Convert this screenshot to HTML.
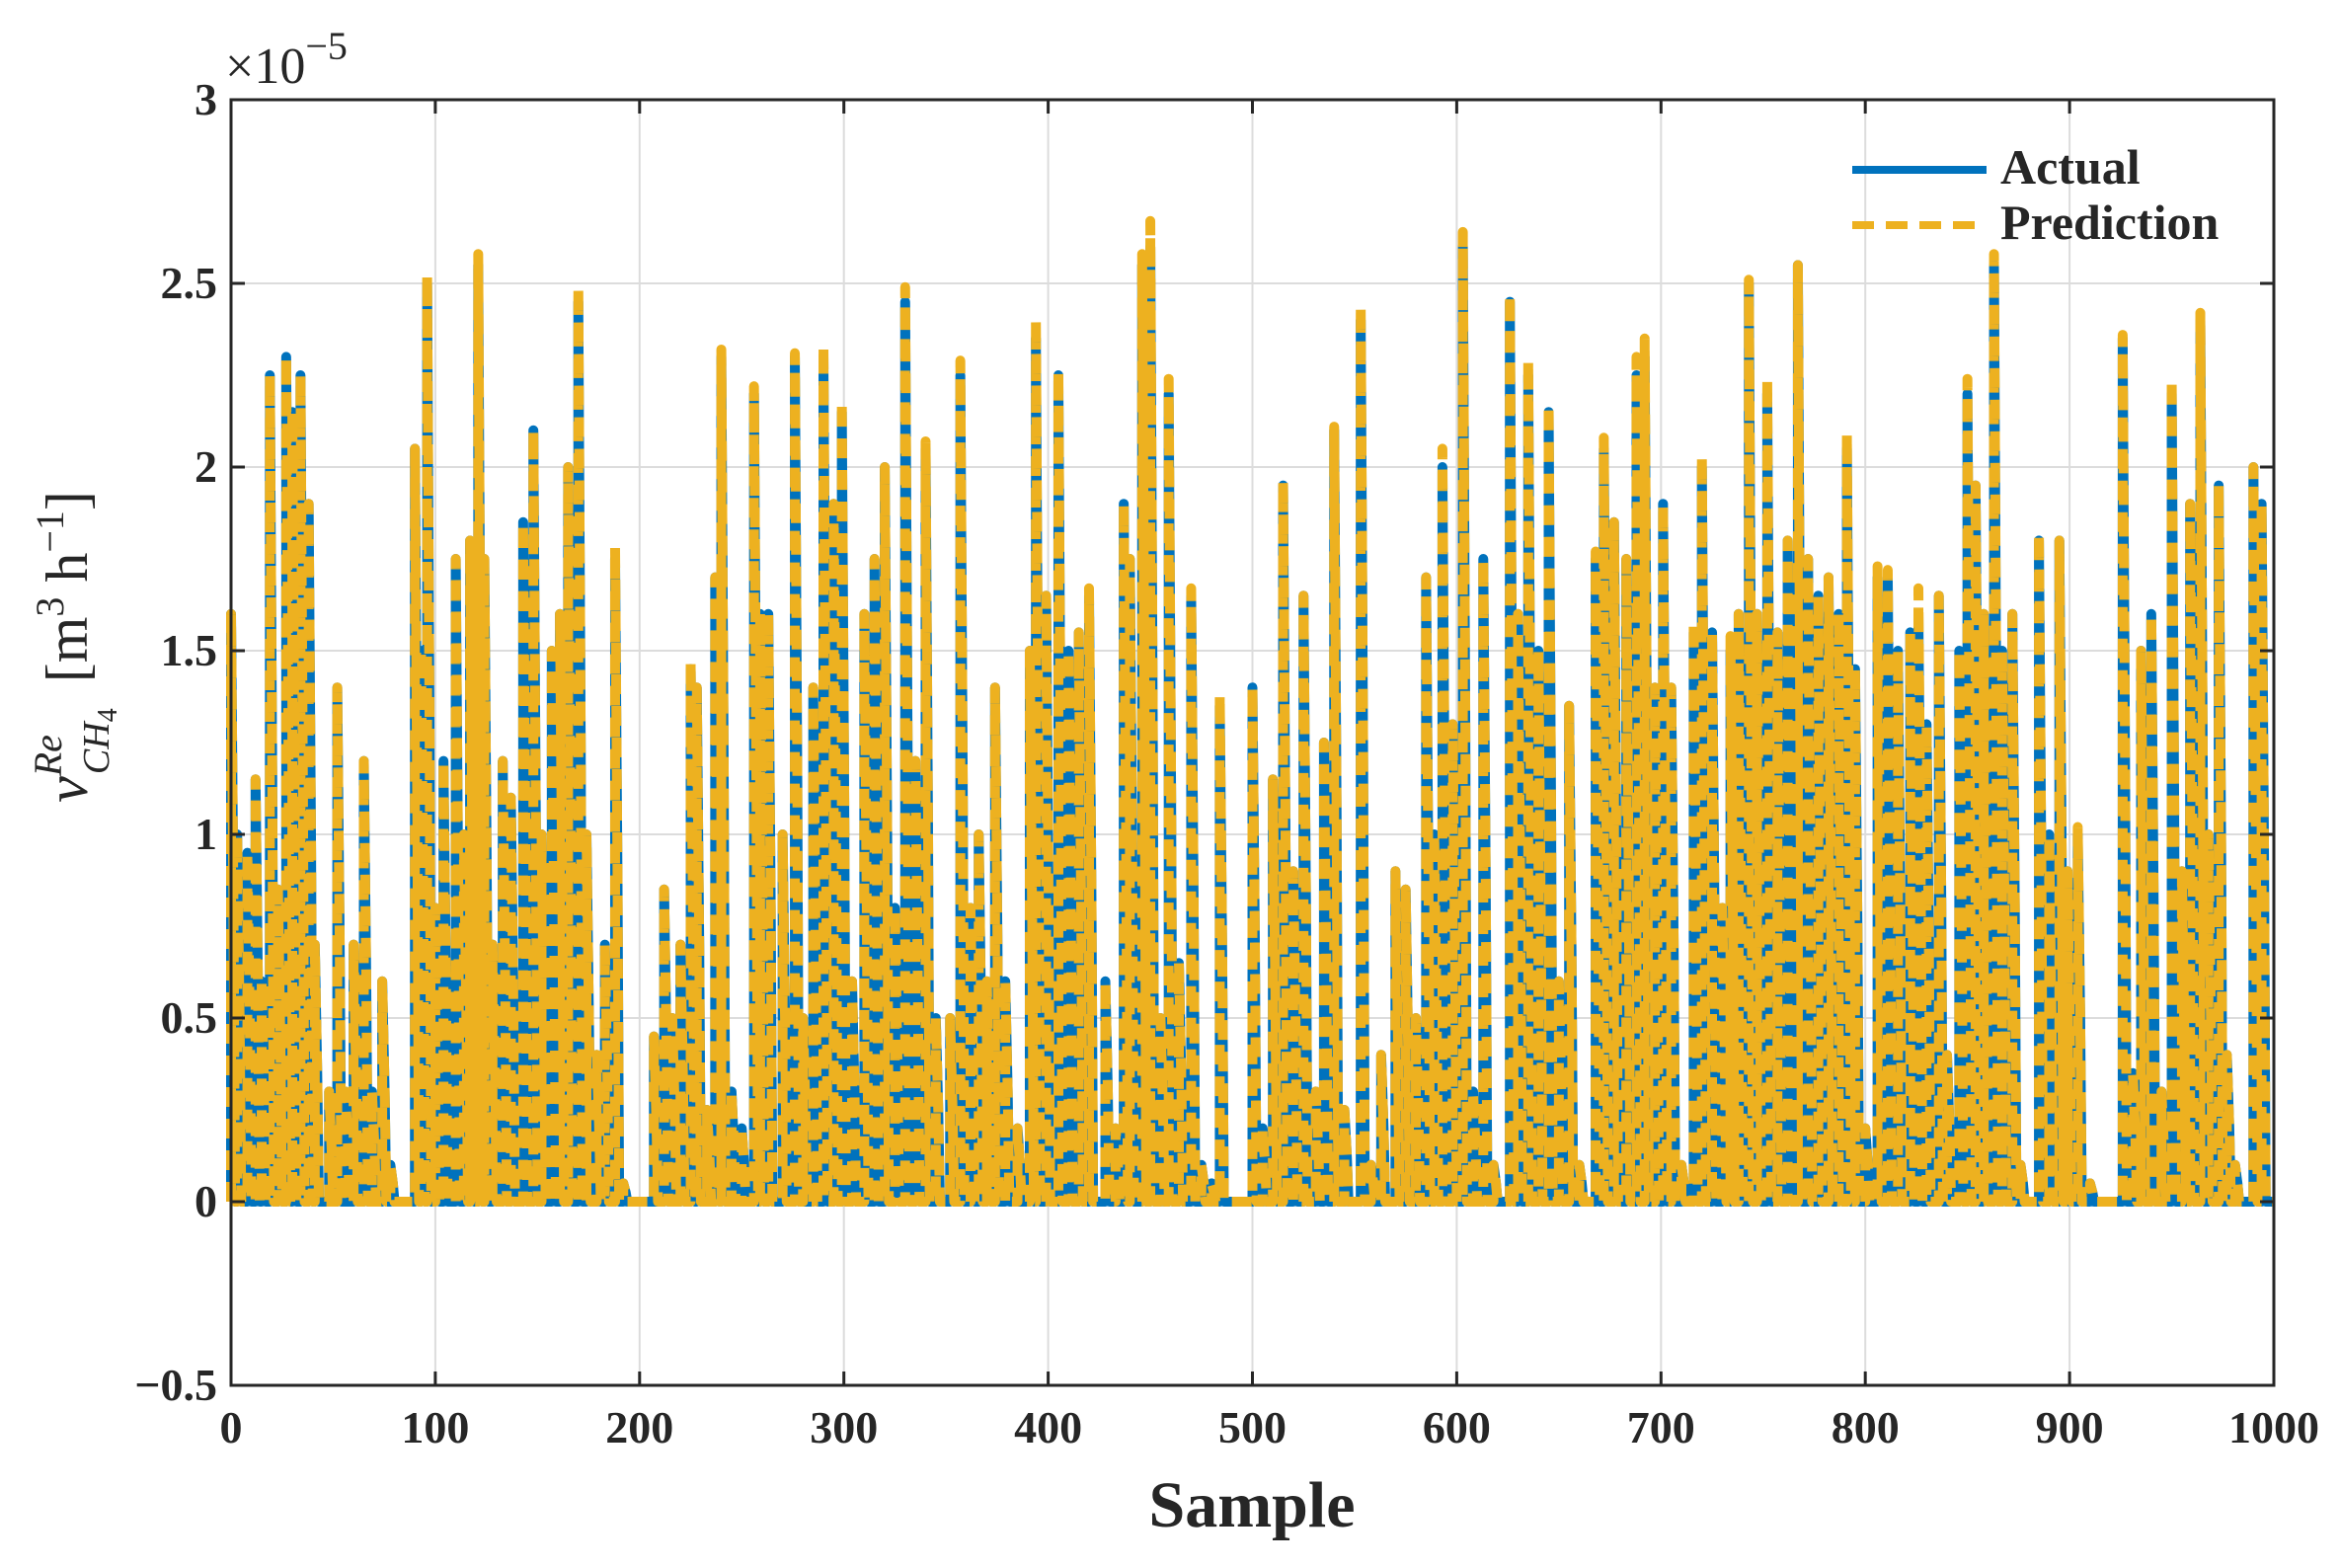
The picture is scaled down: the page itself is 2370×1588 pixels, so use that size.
<!DOCTYPE html>
<html><head><meta charset="utf-8"><style>
body{margin:0;background:#fff}
svg{display:block}
text{font-family:"Liberation Serif",serif;font-weight:bold;fill:#262626}
</style></head><body>
<svg id="chart" width="2370" height="1588" viewBox="0 0 2370 1588" xmlns="http://www.w3.org/2000/svg">
<g id="grid"></g>
<g id="series"></g>
<g id="axes"></g>
<text x="228" y="84" font-size="52" style="font-weight:normal">×10<tspan dy="-24" font-size="40">−5</tspan></text>
<text x="1268" y="1546" font-size="66" text-anchor="middle">Sample</text>
<text transform="translate(88,655) rotate(-90)" font-size="60" style="font-weight:normal" text-anchor="middle"><tspan font-style="italic">v</tspan><tspan font-style="italic" font-size="40" dy="-26">Re</tspan><tspan font-style="italic" font-size="38" dx="-40" dy="48">CH</tspan><tspan font-size="28" dy="8">4</tspan><tspan dy="-30" dx="26">[m</tspan><tspan font-size="40" dy="-24">3</tspan><tspan dy="24"> h</tspan><tspan font-size="40" dy="-24">−1</tspan><tspan dy="24">]</tspan></text>
<g>
<line x1="1876" y1="172" x2="2012" y2="172" stroke="#0072BD" stroke-width="8"/>
<text x="2026" y="186" font-size="50">Actual</text>
<line x1="1876" y1="228" x2="2012" y2="228" stroke="#EDB120" stroke-width="8" stroke-dasharray="22 12"/>
<text x="2026" y="242" font-size="50">Prediction</text>
</g>
</svg>
<script>
const spikeSamples=[0,3,8,12,15,19,23,27,30,34,38,41,48,52,56,60,65,69,74,78,90,93,96,100,104,110,114,117,121,124,128,133,137,143,148,152,157,161,165,170,174,179,183,188,192,207,212,216,220,225,228,233,237,240,245,250,256,259,263,270,276,280,285,290,295,299,304,310,315,320,325,330,335,340,345,352,357,362,366,370,374,379,385,391,394,399,405,410,415,420,428,433,437,440,446,450,455,459,464,470,475,480,484,500,505,510,515,520,525,531,535,540,545,553,558,563,570,575,580,585,589,593,598,603,608,613,618,626,630,635,640,645,650,655,660,668,672,677,683,688,692,697,701,705,710,716,720,725,730,734,738,743,747,752,757,762,767,772,777,782,787,791,795,800,806,811,816,822,826,830,836,840,846,850,854,858,863,867,872,876,885,890,895,899,904,910,926,931,935,940,945,950,955,959,964,968,973,977,981,990,994,998];
const actualPeaks=[1.6,1.0,0.95,1.15,0.6,2.25,0.85,2.3,2.15,2.25,1.9,0.7,0.3,1.4,0.3,0.7,1.2,0.3,0.6,0.1,2.05,1.5,2.5,0.8,1.2,1.75,1.0,1.8,2.55,1.75,0.7,1.2,1.1,1.85,2.1,1.0,1.5,1.6,2.0,2.45,1.0,0.4,0.7,1.75,0.05,0.45,0.85,0.5,0.7,1.45,1.4,0.25,1.7,2.3,0.3,0.2,2.2,1.6,1.6,1.0,2.3,0.5,1.4,2.3,1.9,2.15,0.6,1.6,1.75,2.0,0.8,2.45,1.2,2.05,0.5,0.5,2.25,0.8,1.0,0.6,1.4,0.6,0.2,1.5,2.35,1.65,2.25,1.5,1.55,1.65,0.6,0.2,1.9,1.75,2.55,2.6,0.5,2.2,0.65,1.65,0.1,0.05,1.35,1.4,0.2,1.15,1.95,0.9,1.65,0.3,1.25,2.1,0.25,2.4,0.1,0.4,0.9,0.85,0.5,1.7,1.0,2.0,1.3,2.6,0.3,1.75,0.1,2.45,1.6,2.25,1.5,2.15,0.6,1.35,0.1,1.75,2.05,1.85,1.75,2.25,2.3,1.4,1.9,1.4,0.1,1.55,2.0,1.55,0.8,1.5,1.6,2.5,1.6,2.2,1.55,1.8,2.55,1.75,1.65,1.7,1.6,2.05,1.45,0.2,1.7,1.7,1.5,1.55,1.6,1.3,1.65,0.4,1.5,2.2,1.95,1.6,2.55,1.5,1.6,0.1,1.8,1.0,1.8,0.9,1.0,0.05,2.35,0.35,1.5,1.6,0.3,2.2,0.9,1.9,2.4,1.0,1.95,0.4,0.1,2.0,1.9,0];
const predictionPeaks=[1.6,1.0,0.95,1.15,0.6,2.25,0.85,2.3,2.15,2.25,1.9,0.7,0.3,1.4,0.3,0.7,1.2,0.3,0.6,0.1,2.05,1.5,2.52,0.8,1.2,1.75,1.0,1.8,2.58,1.75,0.7,1.2,1.1,1.85,2.1,1.0,1.5,1.6,2.0,2.49,1.0,0.4,0.7,1.78,0.05,0.45,0.85,0.5,0.7,1.47,1.4,0.25,1.7,2.32,0.3,0.2,2.22,1.6,1.6,1.0,2.31,0.5,1.4,2.33,1.9,2.18,0.6,1.6,1.75,2.0,0.8,2.49,1.2,2.07,0.5,0.5,2.29,0.8,1.0,0.6,1.4,0.6,0.2,1.5,2.4,1.65,2.26,1.5,1.55,1.67,0.6,0.2,1.9,1.75,2.58,2.67,0.5,2.24,0.65,1.67,0.1,0.05,1.38,1.4,0.2,1.15,1.96,0.9,1.65,0.3,1.25,2.11,0.25,2.44,0.1,0.4,0.9,0.85,0.5,1.7,1.0,2.05,1.3,2.64,0.3,1.75,0.1,2.47,1.6,2.29,1.5,2.17,0.6,1.35,0.1,1.77,2.08,1.85,1.75,2.3,2.35,1.4,1.9,1.4,0.1,1.58,2.03,1.55,0.8,1.54,1.6,2.51,1.6,2.24,1.55,1.8,2.55,1.75,1.65,1.7,1.6,2.09,1.45,0.2,1.73,1.72,1.5,1.55,1.67,1.3,1.65,0.4,1.5,2.24,1.95,1.6,2.58,1.5,1.6,0.1,1.82,1.0,1.8,0.9,1.02,0.05,2.36,0.35,1.5,1.6,0.3,2.24,0.9,1.9,2.42,1.0,1.95,0.4,0.1,2.0,1.9,0];
const xTicks=[0,100,200,300,400,500,600,700,800,900,1000];
const yTicks=[-0.5,0,0.5,1,1.5,2,2.5,3];
const yTickLabels=["−0.5","0","0.5","1","1.5","2","2.5","3"];

const L=234,R=2303,T=101,B=1403;
const xs=v=>L+(v/1000)*(R-L);
const ys=v=>B-((v+0.5)/3.5)*(B-T);
const NS='http://www.w3.org/2000/svg';
function mk(tag,parent,attrs){const e=document.createElementNS(NS,tag);for(const k in attrs)e.setAttribute(k,attrs[k]);parent.appendChild(e);return e;}
const grid=document.getElementById('grid'),axes=document.getElementById('axes'),series=document.getElementById('series');
xTicks.forEach(t=>{
  const g=mk('line',grid,{x1:xs(t),x2:xs(t),y1:T,y2:B,stroke:'#dcdcdc','stroke-width':2});
  
  
  mk('line',axes,{x1:xs(t),x2:xs(t),y1:B,y2:B-14,stroke:'#262626','stroke-width':3});
  mk('line',axes,{x1:xs(t),x2:xs(t),y1:T,y2:T+14,stroke:'#262626','stroke-width':3});
  const tx=mk('text',axes,{x:xs(t),y:B+58,'font-size':46,'text-anchor':'middle'});
  tx.textContent=t;
  
  
});
yTicks.forEach((t,i)=>{
  const g=mk('line',grid,{x1:L,x2:R,y1:ys(t),y2:ys(t),stroke:'#dcdcdc','stroke-width':2});
  
  
  mk('line',axes,{x1:L,x2:L+14,y1:ys(t),y2:ys(t),stroke:'#262626','stroke-width':3});
  mk('line',axes,{x1:R,x2:R-14,y1:ys(t),y2:ys(t),stroke:'#262626','stroke-width':3});
  const tx=mk('text',axes,{x:L-14,y:ys(t)+15,'font-size':46,'text-anchor':'end'});
  tx.textContent=yTickLabels[i];
  
  
});
const fr=mk('rect',axes,{x:L,y:T,width:R-L,height:B-T,fill:'none',stroke:'#262626','stroke-width':3});


function pathFor(peaks){
  let d=`M${xs(0)},${ys(0)}`;
  spikeSamples.forEach((s,i)=>{
    d+=` L${xs(s)},${ys(0)} L${xs(s)},${ys(peaks[i])} L${xs(s+1.2)},${ys(peaks[i]*0.5)} L${xs(s+2)},${ys(0)}`;
  });
  d+=` L${xs(1000)},${ys(0)}`;
  return d;
}
const zl=mk('line',series,{x1:xs(0),x2:xs(1000),y1:ys(0),y2:ys(0),stroke:'#0072BD','stroke-width':6});


const a=mk('path',series,{d:pathFor(actualPeaks),fill:'none',stroke:'#0072BD','stroke-width':10,'stroke-linejoin':'round'});


const p=mk('path',series,{d:pathFor(predictionPeaks),fill:'none',stroke:'#EDB120','stroke-width':10,'stroke-dasharray':'20 12','stroke-linejoin':'round'});


</script>
</body></html>
